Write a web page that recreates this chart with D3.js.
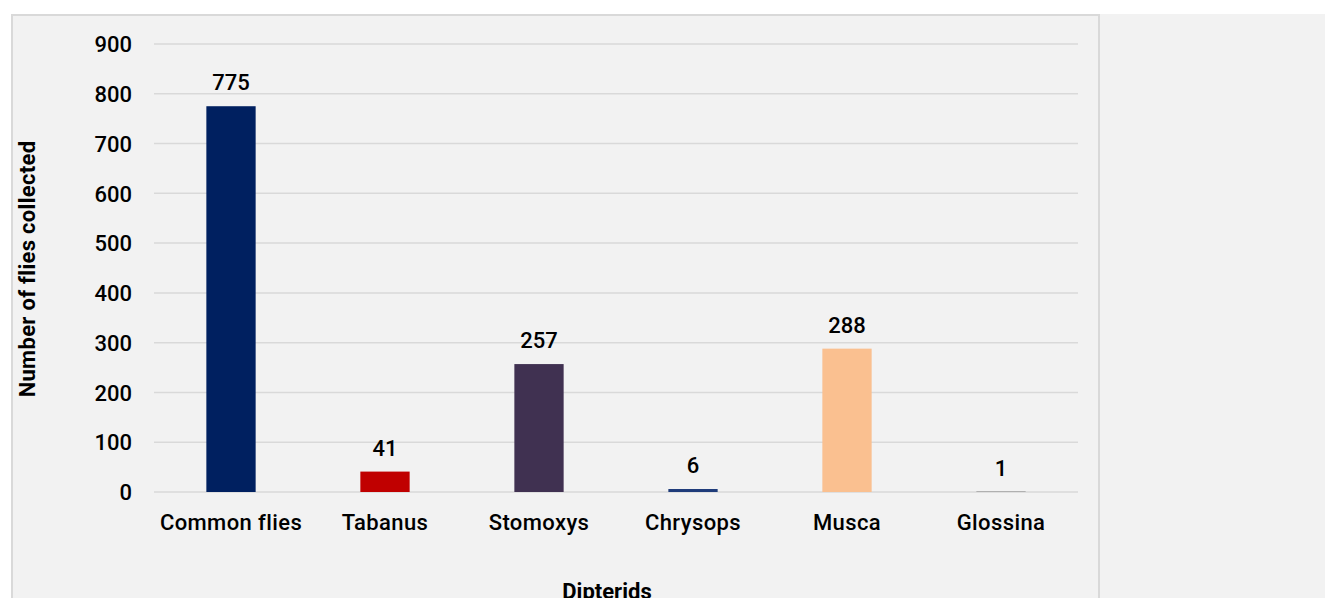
<!DOCTYPE html>
<html><head><meta charset="utf-8">
<script src="https://cdn.jsdelivr.net/npm/d3@7"></script>
<style>
html,body{margin:0;padding:0;background:#fff;}
svg{display:block;font-family:Roboto,"Liberation Sans",Arial,sans-serif;}
</style></head>
<body>
<svg id="c" width="1325" height="598"></svg>
<script>
const categories = ["Common flies","Tabanus","Stomoxys","Chrysops","Musca","Glossina"];
const values = [775,41,257,6,288,1];
const colors = ["#002060","#c00000","#403151","#1f3c7a","#fac090","#7f7f7f"];
const yTicks = [0,100,200,300,400,500,600,700,800,900];

const FONT = "Roboto,'Liberation Sans',Arial,sans-serif";
const svg = d3.select("#c");
// backgrounds
svg.append("rect").attr("x",1100).attr("y",14).attr("width",225).attr("height",584).attr("fill","#f2f2f2");
svg.append("rect").attr("x",12).attr("y",15).attr("width",1087).attr("height",590)
  .attr("fill","#f2f2f2").attr("stroke","#d9d9d9").attr("stroke-width",2);

const x = d3.scaleBand().domain(categories).range([154,1078]).paddingInner(0.68).paddingOuter(0.34);
const y = d3.scaleLinear().domain([0,900]).range([492,44]);

// gridlines
svg.append("g").selectAll("line").data(yTicks).join("line")
  .attr("x1",154).attr("x2",1078).attr("y1",d=>y(d)).attr("y2",d=>y(d))
  .attr("stroke","#d9d9d9").attr("stroke-width",1.5);

// y axis labels
const yAxis = d3.axisLeft(y).tickValues(yTicks).tickSize(0).tickPadding(0);
const gy = svg.append("g").attr("transform","translate(132,0)").call(yAxis);
gy.select(".domain").remove();
gy.selectAll("text").attr("font-size",22).attr("font-weight",500).attr("fill","#000").attr("font-family",FONT).attr("dy","0.35em");

// x axis labels
const xAxis = d3.axisBottom(x).tickSize(0).tickPadding(0);
const gx = svg.append("g").attr("transform","translate(0,522)").call(xAxis);
gx.select(".domain").remove();
gx.selectAll("text").attr("font-size",22).attr("font-weight",500).attr("letter-spacing","0.4px").attr("fill","#000").attr("font-family",FONT).attr("dy","0.35em");

// bars
svg.append("g").selectAll("rect").data(values).join("rect")
  .attr("x",(d,i)=>x(categories[i])).attr("width",x.bandwidth())
  .attr("y",d=>y(d)).attr("height",d=>y(0)-y(d))
  .attr("fill",(d,i)=>colors[i]);

// data labels
svg.append("g").selectAll("text").data(values).join("text")
  .attr("x",(d,i)=>x(categories[i])+x.bandwidth()/2)
  .attr("y",d=>y(d)-16)
  .attr("text-anchor","middle").attr("font-size",22).attr("font-weight",500).attr("fill","#000")
  .text(d=>d);

// axis titles
svg.append("text").attr("x",607).attr("y",599).attr("text-anchor","middle")
  .attr("font-size",22).attr("font-weight","bold").text("Dipterids");
svg.append("text").attr("transform","translate(35,269) rotate(-90)").attr("text-anchor","middle")
  .attr("font-size",22).attr("font-weight","bold").attr("letter-spacing","0.3px").text("Number of flies collected");
</script>
</body></html>
